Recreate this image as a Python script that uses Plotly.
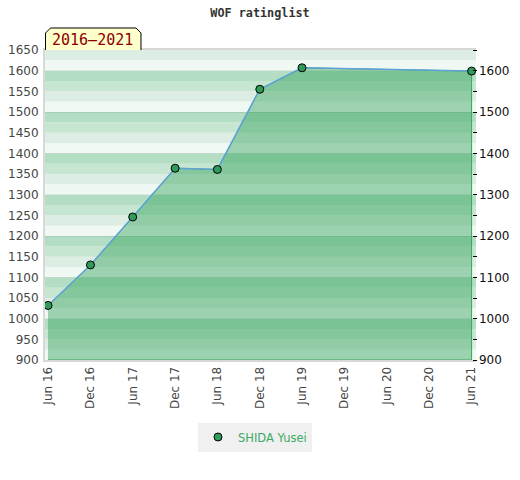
import plotly.graph_objects as go

# chart data
dates = ["2016-06-01", "2016-12-01", "2017-06-01", "2017-12-01",
         "2018-06-01", "2018-12-01", "2019-06-01", "2021-06-01"]
ratings = [1032, 1130, 1246, 1364, 1361, 1555, 1607, 1599]
player = "SHIDA Yusei"
period_label = "2016\u20132021"
chart_title = "WOF ratinglist"

y_min, y_max = 900, 1650

W, H = 520, 480
ML, MR, MT, MB = 45, 44, 50, 120
PW, PH = W - ML - MR, H - MT - MB


def px_to_paper(x, y):
    return (x - ML) / PW, (H - MB - y) / PH


fig = go.Figure()

# striped background, 4 shades per 100 points
band_colors = ["#eff8f3", "#dceee3", "#c7e6d2", "#b3dec4"]
shapes = []
for lo in range(y_min, y_max, 25):
    k = ((lo - y_min) % 100) // 25
    shapes.append(dict(type="rect", xref="paper", yref="y", x0=0, x1=1,
                       y0=lo, y1=lo + 25, fillcolor=band_colors[k],
                       line_width=0, layer="below"))

# yellow period tag with clipped top corners
pts = [(45.5, 50), (45.5, 33), (50.5, 28), (136, 28), (141, 33), (141, 50)]
path = ""
for i, (x, y) in enumerate(pts):
    px, py = px_to_paper(x, y)
    path += ("M" if i == 0 else " L") + f"{px:.4f},{py:.4f}"
shapes.append(dict(type="path", xref="paper", yref="paper", path=path,
                   fillcolor="#ffffcc", line=dict(color="black", width=1),
                   layer="above"))

# filled area polygon
fig.add_trace(go.Scatter(
    x=dates + [dates[-1], dates[0]],
    y=ratings + [y_min, y_min],
    fill="toself", fillcolor="rgba(41,158,81,0.42)",
    mode="lines", line=dict(color="#3aa65f", width=1),
    showlegend=False, hoverinfo="skip",
))
fig.add_trace(go.Scatter(
    x=dates, y=ratings, mode="lines",
    line=dict(color="#5ea2d8", width=1.5),
    showlegend=False, hoverinfo="skip",
))
fig.add_trace(go.Scatter(
    x=dates, y=ratings, mode="markers", name=player,
    marker=dict(color="#2e9b5a", size=8, line=dict(color="black", width=1)),
))
# invisible trace just to get the right axis
fig.add_trace(go.Scatter(x=[dates[0]], y=[ratings[0]], yaxis="y2",
                         mode="markers", marker=dict(opacity=0),
                         showlegend=False, hoverinfo="skip"))

tx, ty = px_to_paper(92, 40)
fig.add_annotation(text=period_label, xref="paper", yref="paper", x=tx, y=ty,
                   showarrow=False, xanchor="center", yanchor="middle",
                   font=dict(family="DejaVu Sans Mono", size=15, color="#8b0000"))

tick_font = dict(family="DejaVu Sans", size=12, color="#444")
leg_x, leg_y = px_to_paper(198, 437)

fig.update_layout(
    width=W, height=H,
    margin=dict(l=ML, r=MR, t=MT, b=MB),
    paper_bgcolor="white", plot_bgcolor="white",
    title=dict(text=chart_title, x=0.5, xanchor="center", y=0.973,
               yanchor="middle",
               font=dict(family="DejaVu Sans Mono", size=11.8, color="#333",
                         weight="bold")),
    shapes=shapes,
    xaxis=dict(type="date", range=["2016-05-19", "2021-06-20"],
               tick0="2016-06-01", dtick="M6", tickformat="%b %y",
               tickangle=-90, tickfont=tick_font, showgrid=False,
               showline=True, mirror=True, linecolor="#d8d8d8", linewidth=2,
               zeroline=False, ticks="", automargin=False),
    yaxis=dict(range=[y_min, y_max], dtick=50, tickfont=tick_font,
               showgrid=False, showline=True, linecolor="#d8d8d8",
               linewidth=2, zeroline=False, ticks="", ticklabelstandoff=2,
               automargin=False),
    yaxis2=dict(range=[y_min, y_max], dtick=100, overlaying="y", side="right",
                anchor="free", position=(471.5 - ML) / PW,
                tickfont=dict(family="DejaVu Sans", size=12, color="#111"),
                ticks="outside", ticklen=4, tickcolor="black",
                minor=dict(dtick=50, ticks="outside", ticklen=4,
                           tickcolor="black"),
                showgrid=True, gridcolor="rgba(0,0,0,0.07)", gridwidth=1,
                showline=False, zeroline=False, automargin=False),
    legend=dict(orientation="h", x=leg_x, xanchor="left", y=leg_y,
                yanchor="middle", bgcolor="#f0f0f0",
                font=dict(family="DejaVu Sans", size=11.5, color="#3caa64")),
    showlegend=True,
)

# the page body has a default 8px margin; drop it so the figure sits at 0,0
fig.write_html("out.html", config={"displayModeBar": False},
               post_script="document.body.style.margin='0';")
